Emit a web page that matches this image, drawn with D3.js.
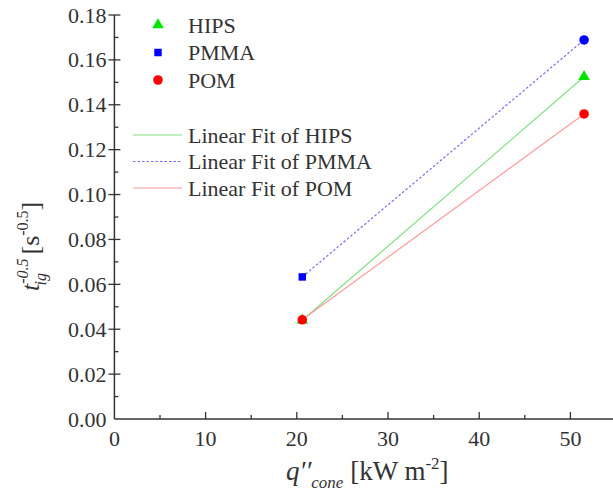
<!DOCTYPE html>
<html>
<head>
<meta charset="utf-8">
<script src="https://cdn.jsdelivr.net/npm/d3@7"></script>
<style>
  html, body { margin: 0; padding: 0; background: #fff; }
  svg { display: block; }
  text { font-family: "Liberation Serif", "Times New Roman", serif; fill: #333; }
</style>
</head>
<body>
<svg id="chart" width="613" height="494"></svg>
<script>
// Heat flux of the cone heater (kW m^-2)
const heatFlux = [20.6, 51.5];
// Inverse square root of ignition time for each polymer
const hipsValues = [0.0440, 0.1525];
const pmmaValues = [0.0633, 0.1689];
const pomValues = [0.0442, 0.1359];

const xTicks = [0, 10, 20, 30, 40, 50];
const yTicks = [0.00, 0.02, 0.04, 0.06, 0.08, 0.10, 0.12, 0.14, 0.16, 0.18];

const series = [
  { name: "HIPS", values: hipsValues, color: "#00e600", symbol: d3.symbolTriangle, size: 58,
    fitColor: "#80e080", dash: null },
  { name: "PMMA", values: pmmaValues, color: "#0000ff", symbol: d3.symbolSquare, size: 56,
    fitColor: "#7070ee", dash: "2.5,2" },
  { name: "POM", values: pomValues, color: "#ff0000", symbol: d3.symbolCircle, size: 72,
    fitColor: "#ff9a9a", dash: null }
];

const svg = d3.select("#chart");
const x = d3.scaleLinear().domain([0, 55]).range([114.4, 616]);
const y = d3.scaleLinear().domain([0, 0.18]).range([419, 15]);

const axisColor = "#333";
const tickFont = 22;

// Axes lines
svg.append("line").attr("x1", x(0)).attr("x2", x(55)).attr("y1", y(0)).attr("y2", y(0))
  .attr("stroke", axisColor).attr("stroke-width", 1.5);
svg.append("line").attr("x1", x(0)).attr("x2", x(0)).attr("y1", y(0)).attr("y2", y(0.18))
  .attr("stroke", axisColor).attr("stroke-width", 1.5);

// X ticks (inward), major and minor
const xMinor = d3.range(5, 55, 10);
svg.selectAll(".xmaj").data(xTicks.slice(1)).join("line")
  .attr("x1", d => x(d)).attr("x2", d => x(d))
  .attr("y1", y(0)).attr("y2", y(0) - 7)
  .attr("stroke", axisColor).attr("stroke-width", 1.3);
svg.selectAll(".xmin").data(xMinor).join("line")
  .attr("x1", d => x(d)).attr("x2", d => x(d))
  .attr("y1", y(0)).attr("y2", y(0) - 4)
  .attr("stroke", axisColor).attr("stroke-width", 1.3);
svg.selectAll(".xlab").data(xTicks).join("text")
  .attr("x", d => x(d)).attr("y", y(0) + 27)
  .attr("text-anchor", "middle").attr("font-size", tickFont)
  .text(d => d3.format("d")(d));

// Y ticks
const yMinor = d3.range(0.01, 0.18, 0.02);
svg.selectAll(".ymaj").data(yTicks.slice(1)).join("line")
  .attr("x1", x(0) - 6).attr("x2", x(0) + 6)
  .attr("y1", d => y(d)).attr("y2", d => y(d))
  .attr("stroke", axisColor).attr("stroke-width", 1.3);
svg.selectAll(".ymin").data(yMinor).join("line")
  .attr("x1", x(0)).attr("x2", x(0) + 4)
  .attr("y1", d => y(d)).attr("y2", d => y(d))
  .attr("stroke", axisColor).attr("stroke-width", 1.3);
svg.selectAll(".ylab").data(yTicks).join("text")
  .attr("x", x(0) - 8).attr("y", d => y(d) + 7.5)
  .attr("text-anchor", "end").attr("font-size", tickFont)
  .text(d => d3.format(".2f")(d));

// Linear fits drawn between the measured heat fluxes
const line = d3.line().x((d, i) => x(heatFlux[i])).y(d => y(d));
series.forEach(s => {
  svg.append("path").datum(s.values)
    .attr("d", line)
    .attr("fill", "none")
    .attr("stroke", s.fitColor)
    .attr("stroke-width", 1.2)
    .attr("stroke-dasharray", s.dash);
});

// Data points
series.forEach(s => {
  svg.selectAll(null).data(s.values).join("path")
    .attr("transform", (d, i) => `translate(${x(heatFlux[i])},${y(d)})`)
    .attr("d", (d, i) => {
      // the last PMMA point is plotted with a circle
      const sym = (s.name === "PMMA" && i === 1) ? d3.symbolCircle : s.symbol;
      const size = (s.name === "PMMA" && i === 1) ? 72 : s.size;
      return d3.symbol().type(sym).size(size)();
    })
    .attr("fill", s.color);
});

// Legend: symbols
const legend = svg.append("g");
series.forEach((s, i) => {
  const ly = 25 + i * 27.5;
  legend.append("path")
    .attr("transform", `translate(158,${ly})`)
    .attr("d", d3.symbol().type(s.symbol).size(s.size)())
    .attr("fill", s.color);
  legend.append("text").attr("x", 188).attr("y", ly + 7.5)
    .attr("font-size", tickFont).text(s.name);
});

// Legend: fit lines
series.forEach((s, i) => {
  const ly = 135 + i * 26.5;
  legend.append("line")
    .attr("x1", 133).attr("x2", 182).attr("y1", ly).attr("y2", ly)
    .attr("stroke", s.fitColor).attr("stroke-width", 1.2)
    .attr("stroke-dasharray", s.dash);
  legend.append("text").attr("x", 188).attr("y", ly + 7.5)
    .attr("font-size", tickFont).text("Linear Fit of " + s.name);
});

// X axis title
const xt = svg.append("text").attr("x", 286).attr("y", 480).attr("font-size", 27);
xt.append("tspan").attr("font-style", "italic").text("q\u2032\u2032");
xt.append("tspan").attr("font-style", "italic").attr("font-size", 17).attr("dy", 8).text("cone");
xt.append("tspan").attr("dy", -8).text(" [kW m");
xt.append("tspan").attr("font-size", 17).attr("dy", -11).text("-2");
xt.append("tspan").attr("dy", 11).text("]");

// Y axis title
const yt = svg.append("text").attr("transform", "translate(39,291) rotate(-90)")
  .attr("font-size", 26);
yt.append("tspan").attr("font-style", "italic").text("t");
yt.append("tspan").attr("font-style", "italic").attr("font-size", 16).attr("dy", -11).text("-0.5");
yt.append("tspan").attr("font-style", "italic").attr("font-size", 16).attr("dx", -27).attr("dy", 18).text("ig");
yt.append("tspan").attr("dy", -7).attr("dx", 12).text(" [s");
yt.append("tspan").attr("font-size", 16).attr("dy", -11).text("-0.5");
yt.append("tspan").attr("dy", 11).text("]");
</script>
</body>
</html>
